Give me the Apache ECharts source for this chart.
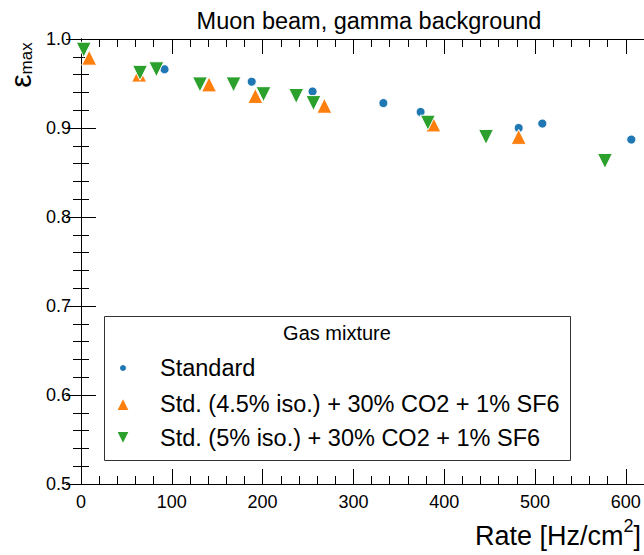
<!DOCTYPE html>
<html>
<head>
<meta charset="utf-8">
<script src="https://cdn.jsdelivr.net/npm/echarts@6/dist/echarts.min.js"></script>
<style>
html, body { margin: 0; padding: 0; background: #fff; }
#chart { width: 644px; height: 555px; }
</style>
</head>
<body>
<div id="chart"></div>
<script>
// ---- data ----
const titleText = 'Muon beam, gamma background';
const xAxisTitleMain = 'Rate [Hz/cm';
const xAxisTitleSup = '2';
const legendTitle = 'Gas mixture';
const seriesNames = ['Standard', 'Std. (4.5% iso.) + 30% CO2 + 1% SF6', 'Std. (5% iso.) + 30% CO2 + 1% SF6'];

const stdRate = [92, 188, 255, 333, 374, 482, 508, 606];
const stdEff  = [0.966, 0.952, 0.941, 0.928, 0.918, 0.900, 0.905, 0.887];

const mixARate = [9, 64, 141, 192, 268, 388, 482];
const mixAEff  = [0.979, 0.960, 0.949, 0.936, 0.925, 0.904, 0.890];

const mixBRate = [3, 65, 83, 131, 168, 201, 237, 256, 382, 446, 577];
const mixBEff  = [0.988, 0.962, 0.966, 0.949, 0.949, 0.938, 0.936, 0.928, 0.906, 0.890, 0.863];

const xTicks = [0, 100, 200, 300, 400, 500, 600];
const yTicks = [0.5, 0.6, 0.7, 0.8, 0.9, 1.0];

const colors = ['#1f77b4', '#ff7f0e', '#2ca02c'];
const FONT = 'Liberation Sans, Arial, Helvetica, sans-serif';
const DOWN_TRIANGLE = 'path://M0,0 L2,0 L1,2 Z';

function pairs(xs, ys) { return xs.map((x, i) => [x, ys[i]]); }

const chart = echarts.init(document.getElementById('chart'), null, { renderer: 'svg' });

const baseAxisLine = { show: true, lineStyle: { color: '#000', width: 1 } };
const baseTick = { show: true, inside: true, length: 15, lineStyle: { color: '#000', width: 1 } };
const baseMinor = { show: true, splitNumber: 5, length: 8, lineStyle: { color: '#000', width: 1 } };

const xCommon = {
  type: 'value', min: xTicks[0], max: 620, interval: 100,
  axisLine: baseAxisLine, axisTick: baseTick, minorTick: baseMinor,
  splitLine: { show: false }, minorSplitLine: { show: false }
};
const yCommon = {
  type: 'value', min: yTicks[0], max: yTicks[yTicks.length - 1], interval: 0.1,
  axisLine: baseAxisLine, axisTick: baseTick, minorTick: baseMinor,
  splitLine: { show: false }, minorSplitLine: { show: false }
};

const markerStyle = (i) => ({ color: colors[i], borderColor: '#fff', borderWidth: 1, opacity: 1 });

function makeLegend(i, size, top, icon) {
  const item = { name: seriesNames[i] };
  if (icon) item.icon = icon;
  return {
    orient: 'vertical', left: 122 - size / 2, top: top, padding: 0, z: 10,
    itemWidth: size, itemHeight: size,
    data: [item],
    selectedMode: false,
    textStyle: { fontFamily: FONT, fontSize: 23.5, color: '#000', lineHeight: 26,
      padding: [0, 0, 0, 159 - (122 + size / 2) - 5] }
  };
}

const option = {
  animation: false,
  backgroundColor: '#fff',
  color: colors,
  title: {
    text: titleText, left: 364, top: 4, textAlign: 'center',
    textStyle: { fontFamily: FONT, fontSize: 23.5, fontWeight: 'normal', color: '#000' }
  },
  grid: { left: 81, top: 39, width: 565, height: 445, containLabel: false },
  xAxis: [
    Object.assign({}, xCommon, {
      position: 'bottom',
      axisLabel: { show: true, fontFamily: FONT, fontSize: 18, color: '#000', margin: 9, showMaxLabel: false }
    }),
    Object.assign({}, xCommon, { position: 'top', axisLabel: { show: false } })
  ],
  yAxis: [
    Object.assign({}, yCommon, {
      position: 'left',
      axisLabel: { show: true, fontFamily: FONT, fontSize: 18, color: '#000', margin: 10,
        formatter: (v) => v.toFixed(1) }
    }),
    Object.assign({}, yCommon, { position: 'right', axisLabel: { show: false } })
  ],
  legend: [
    makeLegend(0, 8, 355, null),
    makeLegend(1, 14, 391, null),
    makeLegend(2, 14, 425, DOWN_TRIANGLE)
  ],
  graphic: [
    {
      type: 'rect', z: 0, silent: true,
      shape: { x: 104.5, y: 316.5, width: 466, height: 144 },
      style: { fill: '#fff', stroke: '#333', lineWidth: 1 }
    },
    {
      type: 'text', z: 51, silent: true,
      x: 337, y: 333,
      style: { text: legendTitle, font: '20px ' + FONT, fill: '#000', align: 'center', verticalAlign: 'middle' }
    },
    {
      type: 'text', z: 51, silent: true,
      x: 641, y: 533,
      style: {
        text: '{a|' + xAxisTitleMain + '}{b|' + xAxisTitleSup + '}{a|]}',
        align: 'right', verticalAlign: 'middle',
        rich: {
          a: { fontFamily: FONT, fontSize: 27, fill: '#000', lineHeight: 32, verticalAlign: 'bottom' },
          b: { fontFamily: FONT, fontSize: 18, fill: '#000', lineHeight: 20, verticalAlign: 'top' }
        }
      }
    },
    {
      type: 'text', z: 51, silent: true,
      x: 20, y: 65, rotation: Math.PI / 2,
      style: {
        text: '{e|\u03B5}{s|max}',
        align: 'center', verticalAlign: 'middle',
        rich: {
          e: { fontFamily: FONT, fontSize: 30, fill: '#000', verticalAlign: 'bottom', lineHeight: 30 },
          s: { fontFamily: FONT, fontSize: 17, fill: '#000', verticalAlign: 'bottom', lineHeight: 22 }
        }
      }
    }
  ],
  series: [
    {
      name: seriesNames[0], type: 'scatter', data: pairs(stdRate, stdEff),
      symbol: 'circle', symbolSize: 9, z: 2,
      itemStyle: markerStyle(0)
    },
    {
      name: seriesNames[1], type: 'scatter', data: pairs(mixARate, mixAEff),
      symbol: 'triangle', symbolSize: 15, z: 3,
      itemStyle: markerStyle(1)
    },
    {
      name: seriesNames[2], type: 'scatter', data: pairs(mixBRate, mixBEff),
      symbol: 'triangle', symbolSize: 15, symbolRotate: 180, z: 4,
      itemStyle: markerStyle(2)
    }
  ]
};

chart.setOption(option);
</script>
</body>
</html>
